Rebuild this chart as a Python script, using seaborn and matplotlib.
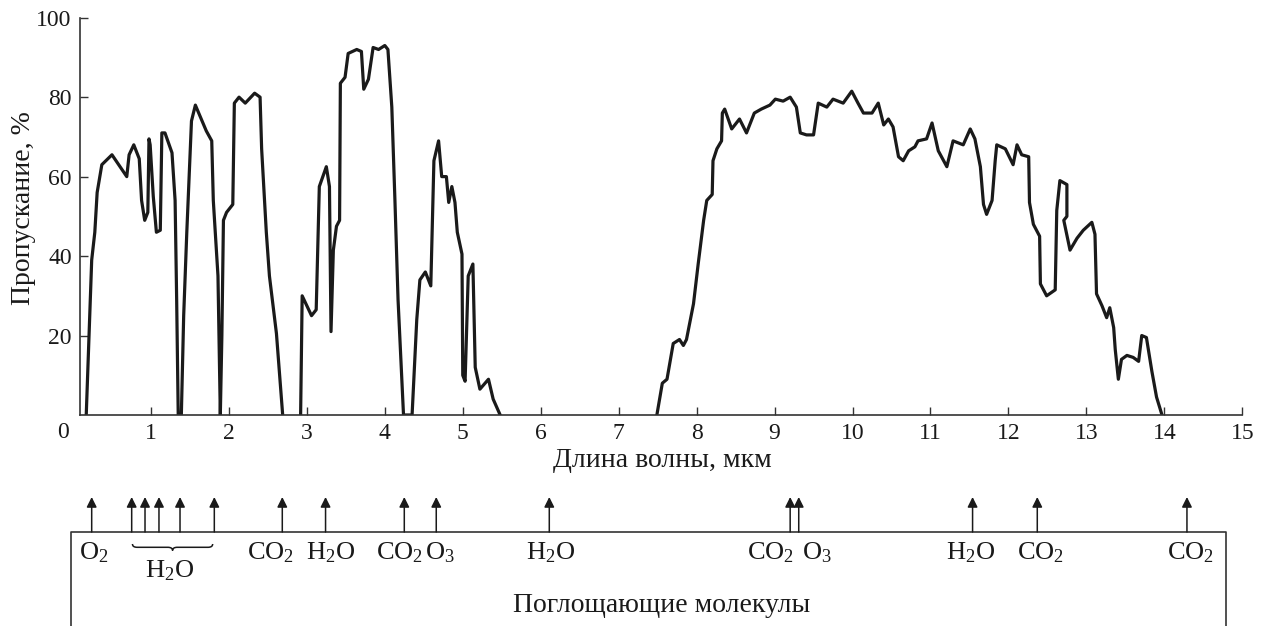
import numpy as np
import pandas as pd
import matplotlib
matplotlib.use("Agg")
import matplotlib.pyplot as plt
import seaborn as sns
from matplotlib.path import Path
from matplotlib.patches import PathPatch

# ---- data: transmission curve segments (wavelength, %) ----
seg1_wl = [0.17, 0.24, 0.28, 0.31, 0.37, 0.50, 0.69, 0.72, 0.78, 0.85, 0.88, 0.92, 0.96, 0.975, 0.99,
           1.03, 1.07, 1.12, 1.14, 1.18, 1.27, 1.31, 1.33, 1.35, 1.39, 1.42, 1.46, 1.52, 1.57, 1.71,
           1.78, 1.80, 1.86, 1.89, 1.91, 1.93, 1.97, 2.05, 2.07, 2.13, 2.21, 2.33, 2.40, 2.42, 2.48,
           2.52, 2.61, 2.69]
seg1_t = [0, 39, 46, 56, 63, 65.5, 60, 65.5, 68, 64.5, 54, 49, 51, 69.5, 68,
          55, 46, 46.5, 71, 71, 66, 54, 29, 0, 0, 25, 46, 74, 78, 71.5,
          69, 54, 35, 0, 20, 49, 51, 53, 78.5, 80, 78.5, 81, 80, 67, 46,
          35, 20.5, 0]

seg2_wl = [2.92, 2.94, 3.06, 3.12, 3.16, 3.25, 3.29, 3.31, 3.34, 3.38, 3.42, 3.43, 3.49, 3.53, 3.64,
           3.70, 3.73, 3.79, 3.85, 3.92, 4.00, 4.04, 4.09, 4.13, 4.17, 4.24, 4.35, 4.41, 4.45, 4.52,
           4.59, 4.63, 4.69, 4.73, 4.79, 4.82, 4.86, 4.90, 4.93, 4.99, 5.00, 5.03, 5.07, 5.13, 5.16,
           5.22, 5.33, 5.39, 5.48]
seg2_t = [0, 30, 25, 26.5, 57.5, 62.5, 57.5, 21, 41.5, 47.5, 49, 83.5, 85, 91, 92,
          91.5, 82, 84.5, 92.5, 92, 93, 92, 77.5, 54, 29, 0, 0, 24, 34, 36,
          32.5, 64, 69, 60, 60, 53.5, 57.5, 53.5, 46, 40.5, 10, 8.5, 35, 38, 12,
          6.5, 9, 4, 0]

seg3_wl = [7.49, 7.56, 7.62, 7.70, 7.78, 7.83, 7.87, 7.96, 8.02, 8.09, 8.13, 8.20, 8.21, 8.26, 8.32,
           8.33, 8.36, 8.45, 8.55, 8.64, 8.74, 8.83, 8.94, 9.01, 9.11, 9.20, 9.28, 9.33, 9.41, 9.50,
           9.56, 9.67, 9.75, 9.88, 9.99, 10.07, 10.14, 10.25, 10.33, 10.40, 10.46, 10.52, 10.59, 10.65,
           10.72, 10.80, 10.84, 10.95, 11.02, 11.10, 11.21, 11.29, 11.42, 11.51, 11.57, 11.64, 11.68,
           11.72, 11.79, 11.83, 11.85, 11.96, 12.06, 12.11, 12.17, 12.26, 12.27, 12.32, 12.40, 12.41,
           12.49, 12.60, 12.62, 12.66, 12.75, 12.75, 12.71, 12.79, 12.88, 12.96, 13.07, 13.11, 13.13,
           13.20, 13.26, 13.30, 13.35, 13.37, 13.41, 13.45, 13.52, 13.60, 13.67, 13.71, 13.77, 13.84,
           13.90, 13.97]
seg3_t = [0, 8, 9, 18, 19, 17.5, 19, 28, 38, 49, 54, 55.5, 64, 67, 69,
          76, 77, 72, 74.5, 71, 76, 77, 78, 79.5, 79, 80, 77.5, 71, 70.5, 70.5,
          78.5, 77.5, 79.5, 78.5, 81.5, 78.5, 76, 76, 78.5, 73, 74.5, 72.5, 65, 64,
          66.5, 67.5, 69, 69.5, 73.5, 66.5, 62.5, 69, 68, 72, 69.5, 62.5, 53,
          50.5, 54, 64, 68, 67, 63, 68, 65.5, 65, 53.5, 48, 45, 33,
          30, 31.5, 51.5, 59, 58, 50, 49, 41.5, 44.5, 46.5, 48.5, 45.5, 30.5,
          27.5, 24.5, 27, 22, 16.5, 9, 14, 15, 14.5, 13.5, 20, 19.5, 11,
          4.5, 0]

# ---- data: absorbing molecules ----
arrow_wl = [0.24, 0.753, 0.924, 1.103, 1.373, 1.813, 2.685, 3.24, 4.25, 4.66, 6.11,
            9.20, 9.31, 11.54, 12.37, 14.29]
mol_labels = ["O$_2$", "CO$_2$", "H$_2$O", "CO$_2$", "O$_3$", "H$_2$O",
              "CO$_2$", "O$_3$", "H$_2$O", "CO$_2$", "CO$_2$"]
mol_label_wl = [0.26, 2.53, 3.30, 4.19, 4.71, 6.13, 8.95, 9.54, 11.52, 12.41, 14.33]
group_label = "H$_2$O"
group_span = [0.763, 1.792]

x_ticks = list(range(1, 16))
y_ticks = [20, 40, 60, 80, 100]

# ---- build table ----
frames = []
for i, (w, t) in enumerate([(seg1_wl, seg1_t), (seg2_wl, seg2_t), (seg3_wl, seg3_t)]):
    frames.append(pd.DataFrame({"wl": w, "t": t, "seg": i}))
df = pd.concat(frames, ignore_index=True)

sns.set_style("ticks")
plt.rcParams["font.family"] = ["Liberation Serif", "DejaVu Serif"]
plt.rcParams["mathtext.fontset"] = "custom"
plt.rcParams["mathtext.rm"] = "Liberation Serif"
plt.rcParams["mathtext.it"] = "Liberation Serif:italic"
plt.rcParams["mathtext.default"] = "regular"

W, H = 1265, 626
fig = plt.figure(figsize=(W / 100, H / 100), dpi=100)
ink = "#1a1a1a"

x0 = 0.09
ax = fig.add_axes([80 / W, 1 - 415 / H, (1242.3 - 80) / W, (415 - 17.7) / H])
sns.lineplot(data=df, x="wl", y="t", units="seg", estimator=None, sort=False,
             color=ink, linewidth=2.3, ax=ax, legend=False)
ax.set_xlim(x0, 15)
ax.set_ylim(0, 100)
ax.set_xticks(x_ticks)
ax.set_yticks(y_ticks)
ax.tick_params(direction="in", length=6, width=1, color="#333333", labelsize=17,
               labelcolor=ink)
ax.tick_params(axis="x", pad=6)
ax.tick_params(axis="y", pad=6)
for s in ["top", "right"]:
    ax.spines[s].set_visible(False)
for s in ["left", "bottom"]:
    ax.spines[s].set_linewidth(1.2)
    ax.spines[s].set_color("#333333")
ax.text(-0.13, -0.043, "0", transform=ax.get_xaxis_transform(), ha="center", va="center",
        fontsize=17, color=ink, clip_on=False)
ax.set_xlabel("Длина волны, мкм", fontsize=20, color=ink)
ax.set_ylabel("Пропускание, %", fontsize=20, color=ink)
ax.xaxis.set_label_coords(0.5007, -0.082)
ax.yaxis.set_label_coords(-0.038, 0.52)

# ---- lower panel: absorbing molecules ----
ax2 = fig.add_axes([80 / W, 0, (1242.3 - 80) / W, 146 / H])
ax2.set_xlim(x0, 15)
ax2.set_ylim(626, 480)
ax2.axis("off")
box_l, box_r, box_t = -0.031, 14.79, 532
ax2.plot([box_l, box_l, box_r, box_r], [700, box_t, box_t, 700], color="#333333",
         linewidth=1.2, clip_on=False)
for xw in arrow_wl:
    ax2.annotate("", xy=(xw, 497), xytext=(xw, box_t),
                 arrowprops=dict(arrowstyle="-|>", color=ink, lw=1.1,
                                 mutation_scale=15, shrinkA=0, shrinkB=0))
for lab, xw in zip(mol_labels, mol_label_wl):
    ax2.text(xw, 553, lab, ha="center", va="center", fontsize=19, color=ink)

# brace under grouped H2O arrows
a, b = group_span
m = (a + b) / 2
c = 0.06
verts = [(a, 544), (a, 547.3), (a + c, 547.3),
         (m - c, 547.3), (m, 547.3), (m, 550.5),
         (m, 550.5), (m, 547.3), (m + c, 547.3),
         (b - c, 547.3), (b, 547.3), (b, 544)]
codes = [Path.MOVETO, Path.CURVE3, Path.CURVE3,
         Path.LINETO, Path.CURVE3, Path.CURVE3,
         Path.MOVETO, Path.CURVE3, Path.CURVE3,
         Path.LINETO, Path.CURVE3, Path.CURVE3]
ax2.add_patch(PathPatch(Path(verts, codes), facecolor="none", edgecolor=ink, lw=1.1))
ax2.text(1.244, 571, group_label, ha="center", va="center", fontsize=19, color=ink)
ax2.text(7.556, 605, "Поглощающие молекулы", ha="center", va="center", fontsize=20, color=ink)

fig.savefig("out.png", dpi=100)
